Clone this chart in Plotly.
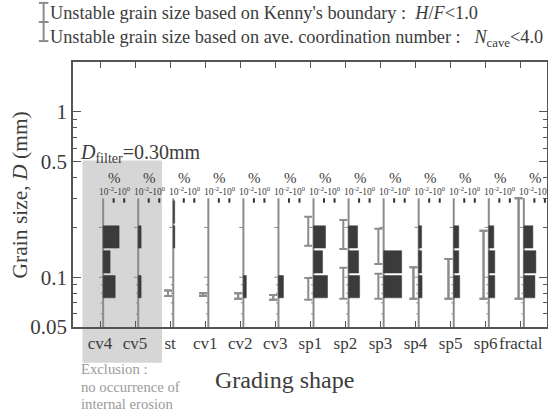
import math
import plotly.graph_objects as go

# ---------------- data ----------------
categories = ["cv4", "cv5", "st", "cv1", "cv2", "cv3", "sp1", "sp2", "sp3",
              "sp4", "sp5", "sp6", "fractal"]
excluded = ["cv4", "cv5"]
bin_lower = [0.075, 0.106, 0.150, 0.212]
bin_upper = [0.106, 0.150, 0.212, 0.300]
# percentage of each grain-size bin (10^-2 .. 10^0 %)
pct_075 = [0.14, 0.019, 0, 0, 0.019, 0.030, 0.215, 0.112, 0.52, 0.021, 0.037, 0.037, 0.112]
pct_106 = [0.046, 0, 0, 0, 0, 0, 0.072, 0.090, 0.52, 0.019, 0.030, 0.037, 0.139]
pct_150 = [0.33, 0.019, 0.014, 0, 0, 0, 0.139, 0.072, 0, 0.019, 0.030, 0.030, 0.072]
pct_212 = [0, 0, 0.013, 0, 0, 0, 0, 0, 0, 0, 0, 0, 0]
# unstable grain-size ranges (mm)
kenny_lo = [None, None, 0.077, 0.077, 0.074, 0.073, 0.155, 0.148, 0.120, 0.074, 0.074, 0.074, 0.074]
kenny_hi = [None, None, 0.083, 0.080, 0.080, 0.078, 0.232, 0.222, 0.196, 0.115, 0.129, 0.191, 0.300]
ncave_lo = [None, None, 0.077, 0.077, 0.074, 0.073, 0.073, 0.074, 0.074, 0.074, 0.074, 0.074, 0.074]
ncave_hi = [None, None, 0.083, 0.080, 0.080, 0.078, 0.099, 0.114, 0.105, 0.115, 0.129, 0.191, 0.300]
d_filter = 0.30
y_ticks = [0.05, 0.1, 0.5, 1]
y_minor = [0.06, 0.07, 0.08, 0.09, 0.2, 0.3, 0.4, 0.6, 0.7, 0.8, 0.9, 2]

# ---------------- styling ----------------
FONT = "Liberation Serif"
TXT = "#3c3c3c"
LINE = "#8c8c8c"
BAR = "#3b3b3b"
OFF = 0.09      # offset of mini axis from category tick
W = 0.60        # x-width of 10^0 %
GAP = 0.965

fig = go.Figure()

xs = list(range(len(categories)))

# category vertical lines (mini axes)
lx, ly = [], []
for i in xs:
    lx += [i + OFF, i + OFF, None]
    ly += [d_filter, 0.05, None]
fig.add_trace(go.Scatter(x=lx, y=ly, mode="lines", line=dict(color=LINE, width=2),
                         hoverinfo="skip", showlegend=False))

# small log ticks on each mini axis
tx, ty = [], []
for i in xs:
    for v in [0.06, 0.07, 0.08, 0.09]:
        tx += [i + OFF - 0.07, i + OFF, None]
        ty += [v, v, None]
    for v in [0.1, 0.2]:
        tx += [i + OFF - 0.12, i + OFF, None]
        ty += [v, v, None]
fig.add_trace(go.Scatter(x=tx, y=ty, mode="lines", line=dict(color=LINE, width=1),
                         hoverinfo="skip", showlegend=False))

# mini % axis ticks at top
mx, my = [], []
for i in xs:
    for f in [0.5, 1.0]:
        mx += [i + OFF + f * W, i + OFF + f * W, None]
        my += [d_filter, d_filter * 0.94, None]
fig.add_trace(go.Scatter(x=mx, y=my, mode="lines", line=dict(color="#333", width=2),
                         hoverinfo="skip", showlegend=False))

# histogram bars
bx, by = [], []
for series, lo, hi in zip([pct_075, pct_106, pct_150, pct_212], bin_lower, bin_upper):
    for i, p in zip(xs, series):
        if p and p > 0:
            w = max((math.log10(p) + 2) / 2 * W, 0.04)
            x0, x1 = i + OFF, i + OFF + w
            y0, y1 = lo, hi * GAP
            bx += [x0, x1, x1, x0, x0, None]
            by += [y0, y0, y1, y1, y0, None]
fig.add_trace(go.Scatter(x=bx, y=by, mode="lines", fill="toself", fillcolor=BAR,
                         line=dict(color=BAR, width=0.5), hoverinfo="skip", showlegend=False))

# unstable range I-bars
for lo_l, hi_l in [(kenny_lo, kenny_hi), (ncave_lo, ncave_hi)]:
    ex, ey, ep, em = [], [], [], []
    for i, lo, hi in zip(xs, lo_l, hi_l):
        if lo is None:
            continue
        mid = math.sqrt(lo * hi)
        ex.append(i + OFF - 0.15)
        ey.append(mid)
        ep.append(hi - mid)
        em.append(mid - lo)
    fig.add_trace(go.Scatter(x=ex, y=ey, mode="markers",
                             marker=dict(size=1, color="rgba(0,0,0,0)"),
                             error_y=dict(type="data", symmetric=False, array=ep, arrayminus=em,
                                          color=LINE, thickness=2, width=4),
                             hoverinfo="skip", showlegend=False))

# excluded region
ex_idx = [categories.index(c) for c in excluded]
fig.add_shape(type="rect", xref="x", yref="paper",
              x0=min(ex_idx) - 0.5, x1=max(ex_idx) + 0.77,
              y0=-0.135, y1=0.628, fillcolor="#d6d6d6", line=dict(width=0), layer="below")

# D_filter dashed line
fig.add_shape(type="line", xref="paper", yref="y", x0=0, x1=1,
              y0=math.log10(d_filter), y1=math.log10(d_filter),
              line=dict(color="#555", width=1.2, dash="dash"))

ann = []
for i in xs:
    ann.append(dict(x=i + OFF + 0.33, y=math.log10(0.40), xref="x", yref="y", text="%",
                    showarrow=False, font=dict(family=FONT, size=15, color=TXT)))
    ann.append(dict(x=i + OFF + 0.33, y=math.log10(0.333), xref="x", yref="y",
                    text="10<sup>-2</sup>-10<sup>0</sup>", showarrow=False,
                    font=dict(family=FONT, size=9.5, color=TXT)))
ann.append(dict(x=-0.64, y=math.log10(0.56), xref="x", yref="y", xanchor="left",
                text="<i>D</i><sub>filter</sub>=0.30mm", showarrow=False,
                font=dict(family=FONT, size=20, color=TXT)))
ann.append(dict(x=-0.053, y=1.185, xref="paper", yref="paper", xanchor="left", yanchor="middle",
                text="Unstable grain size based on Kenny's boundary :  <i>H</i>/<i>F</i><1.0",
                showarrow=False, font=dict(family=FONT, size=18.3, color=TXT)))
ann.append(dict(x=-0.053, y=1.087, xref="paper", yref="paper", xanchor="left", yanchor="middle",
                text="Unstable grain size based on ave. coordination number :&nbsp;&nbsp;&nbsp;<i>N</i><sub>cave</sub><4.0",
                showarrow=False, font=dict(family=FONT, size=18.3, color=TXT)))
ann.append(dict(x=0.446, y=-0.2, xref="paper", yref="paper", xanchor="center", yanchor="middle",
                text="Grading shape", showarrow=False, font=dict(family=FONT, size=24, color=TXT)))
for txt, yy in [("Exclusion :", -0.158), ("no occurrence of", -0.226), ("internal erosion", -0.291)]:
    ann.append(dict(x=0.013, y=yy, xref="paper", yref="paper", xanchor="left", yanchor="middle",
                    text=txt, showarrow=False,
                    font=dict(family=FONT, size=14.7, color="#9a9a9a")))
ann.append(dict(x=-0.112, y=0.5, xref="paper", yref="paper", textangle=-90,
                xanchor="center", yanchor="middle",
                text="Grain size, <i>D</i> (mm)", showarrow=False,
                font=dict(family=FONT, size=21.5, color=TXT)))

# legend I-bar glyphs (paper coordinates)
for (ya, yb) in [(1.223, 1.151), (1.151, 1.079)]:
    xc = -0.062
    fig.add_shape(type="line", xref="paper", yref="paper", x0=xc, x1=xc, y0=ya, y1=yb,
                  line=dict(color=LINE, width=2))
    for yy in (ya, yb):
        fig.add_shape(type="line", xref="paper", yref="paper", x0=xc - 0.01, x1=xc + 0.01,
                      y0=yy, y1=yy, line=dict(color=LINE, width=2))

fig.update_layout(
    width=548, height=412,
    margin=dict(l=73, r=1, t=62, b=85, autoexpand=False),
    paper_bgcolor="white", plot_bgcolor="white",
    annotations=ann,
    font=dict(family=FONT, color=TXT),
)
fig.update_xaxes(range=[-0.77, 12.75], tickmode="array", tickvals=xs, ticktext=categories,
                 tickangle=0, automargin=False,
                 ticks="inside", ticklen=6, tickcolor="#555", showgrid=False, zeroline=False,
                 showline=True, linecolor="#555", linewidth=1.5, mirror="ticks",
                 tickfont=dict(family=FONT, size=17, color=TXT))
fig.update_yaxes(type="log", range=[math.log10(0.05), math.log10(2)], tickmode="array",
                 tickvals=y_ticks, ticktext=["0.05", "0.1", "0.5", "1"], automargin=False,
                 ticks="inside", ticklen=8, tickcolor="#555", showgrid=False, zeroline=False,
                 showline=True, linecolor="#555", linewidth=1.5, mirror="ticks",
                 minor=dict(tickmode="array", tickvals=y_minor, ticks="inside", ticklen=4,
                            tickcolor="#555", showgrid=False),
                 tickfont=dict(family=FONT, size=21, color=TXT))

fig.write_html("out.html", config={"displayModeBar": False},
               post_script="document.body.style.margin='0';document.body.style.overflow='hidden';")
